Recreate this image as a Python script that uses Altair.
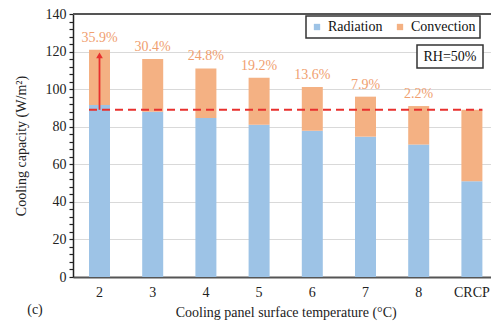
import altair as alt
import pandas as pd

categories = ["2", "3", "4", "5", "6", "7", "8", "CRCP"]
radiation = [91.5, 88.0, 84.7, 81.0, 77.9, 74.7, 70.5, 51.0]
totals = [121.0, 116.0, 111.0, 106.0, 101.1, 96.0, 91.0, 89.0]
pct_labels = ["35.9%", "30.4%", "24.8%", "19.2%", "13.6%", "7.9%", "2.2%", ""]
crcp_total = 89.0
y_tick_values = list(range(0, 141, 4))

FONT = "Liberation Serif"
BLUE = "#9DC3E6"
ORANGE = "#F4B183"
RED = "#E8302E"
W, H = 418, 263
TOP = 6
STEP = 53.2
BW = 21
P_IN = 1 - BW / STEP
P_OUT = 26.5 / STEP - (1 - P_IN) / 2
XR = STEP * (8 - P_IN + 2 * P_OUT)  # band range (reference plot is cropped on the right)

rows = []
for c, r, t in zip(categories, radiation, totals):
    rows.append({"cat": c, "series": "Radiation", "val": r, "ord": 0})
    rows.append({"cat": c, "series": "Convection", "val": round(t - r, 2), "ord": 1})
df = pd.DataFrame(rows)
lab = pd.DataFrame({"cat": categories, "total": totals, "lab": pct_labels})

xscale = alt.Scale(domain=categories, range=[0, XR], paddingInner=P_IN, paddingOuter=P_OUT)
yscale = alt.Scale(domain=[0, 140], nice=False)

xenc = alt.X("cat:N", scale=xscale, sort=categories,
             axis=alt.Axis(title="Cooling panel surface temperature (°C)", labelAngle=0,
                           labelFont=FONT, labelFontSize=14, labelColor="#222",
                           titleFont=FONT, titleFontSize=14, titleFontWeight="normal", titleColor="#222",
                           titlePadding=6, labelPadding=8, ticks=False,
                           domainColor="#555", domainWidth=2, grid=False))

bars = alt.Chart(df).mark_bar(size=BW).encode(
    x=xenc,
    y=alt.Y("val:Q", scale=yscale, stack="zero",
            axis=alt.Axis(title="Cooling capacity (W/m²)", values=y_tick_values,
                          labelExpr="datum.value % 20 === 0 ? datum.label : ''",
                          labelOverlap=False,
                          labelFont=FONT, labelFontSize=14, labelColor="#222", labelPadding=3,
                          titleFont=FONT, titleFontSize=14, titleFontWeight="normal", titleColor="#222",
                          titlePadding=17, tickSize=4, tickColor="#222", tickWidth=1.2,
                          domainColor="#222", domainWidth=1.5,
                          gridColor="#D9D9D9", gridWidth=1,
                          gridOpacity={"condition": {"test": "datum.value % 20 === 0 && datum.value > 0 && datum.value < 140", "value": 1}, "value": 0})),
    color=alt.Color("series:N", scale=alt.Scale(domain=["Radiation", "Convection"], range=[BLUE, ORANGE]),
                    legend=alt.Legend(title=None, orient="none", legendX=233, legendY=2, direction="horizontal",
                                      symbolType="square", symbolSize=40, symbolStrokeWidth=0,
                                      labelFont=FONT, labelFontSize=14, labelColor="#111",
                                      columnPadding=10, padding=4, strokeColor="#333",
                                      fillColor="white")),
    order=alt.Order("ord:Q", sort="ascending"),
)

xn = alt.X("cat:N", scale=xscale, sort=categories, axis=None)

texts = alt.Chart(lab).mark_text(font=FONT, fontSize=14, color="#F0A070", dy=-12).encode(
    x=xn, y=alt.Y("total:Q", scale=yscale, axis=None), text="lab:N")

x_left = P_OUT * STEP
x_right = x_left + 7 * STEP + BW
dash = alt.Chart(pd.DataFrame({"v": [crcp_total]})).mark_rule(color=RED, strokeDash=[8, 5], strokeWidth=2).encode(
    y=alt.Y("v:Q", scale=yscale, axis=None), x=alt.value(x_left), x2=alt.value(x_right))

arrow_df = pd.DataFrame({"cat": ["2"], "y0": [crcp_total], "y1": [118.0], "tip": [118.0]})
arrow_line = alt.Chart(arrow_df).mark_rule(color=RED, strokeWidth=1.8).encode(
    x=xn, y=alt.Y("y0:Q", scale=yscale, axis=None), y2="y1:Q")
arrow_head = alt.Chart(arrow_df).mark_point(shape="triangle-up", filled=True, color=RED, size=45, opacity=1).encode(
    x=xn, y=alt.Y("tip:Q", scale=yscale, axis=None))

top_rule = alt.Chart(pd.DataFrame({"v": [140]})).mark_rule(color="#555", strokeWidth=2).encode(
    y=alt.Y("v:Q", scale=yscale, axis=None), x=alt.value(0), x2=alt.value(W))

rh_box = alt.Chart(pd.DataFrame({"a": [0]})).mark_rect(fill="white", stroke="#333", strokeWidth=1.5).encode(
    x=alt.value(344), x2=alt.value(410), y=alt.value(31), y2=alt.value(54))
rh_text = alt.Chart(pd.DataFrame({"t": ["RH=50%"]})).mark_text(font=FONT, fontSize=14, color="#111").encode(
    x=alt.value(377), y=alt.value(43), text="t:N")
c_text = alt.Chart(pd.DataFrame({"t": ["(c)"]})).mark_text(font=FONT, fontSize=14, color="#222").encode(
    x=alt.value(-38), y=alt.value(296), text="t:N")

chart = alt.layer(bars, dash, arrow_line, arrow_head, texts, top_rule, rh_box, rh_text, c_text).resolve_axis(
    x="independent", y="independent"
).properties(
    width=W, height=H,
    autosize=alt.AutoSizeParams(type="none"),
    padding={"left": 65, "top": TOP, "right": 0, "bottom": 44},
).configure_view(stroke=None).configure_legend(strokeWidth=1.5)

chart.save("out.html", embed_options={"renderer": "svg", "actions": False})
